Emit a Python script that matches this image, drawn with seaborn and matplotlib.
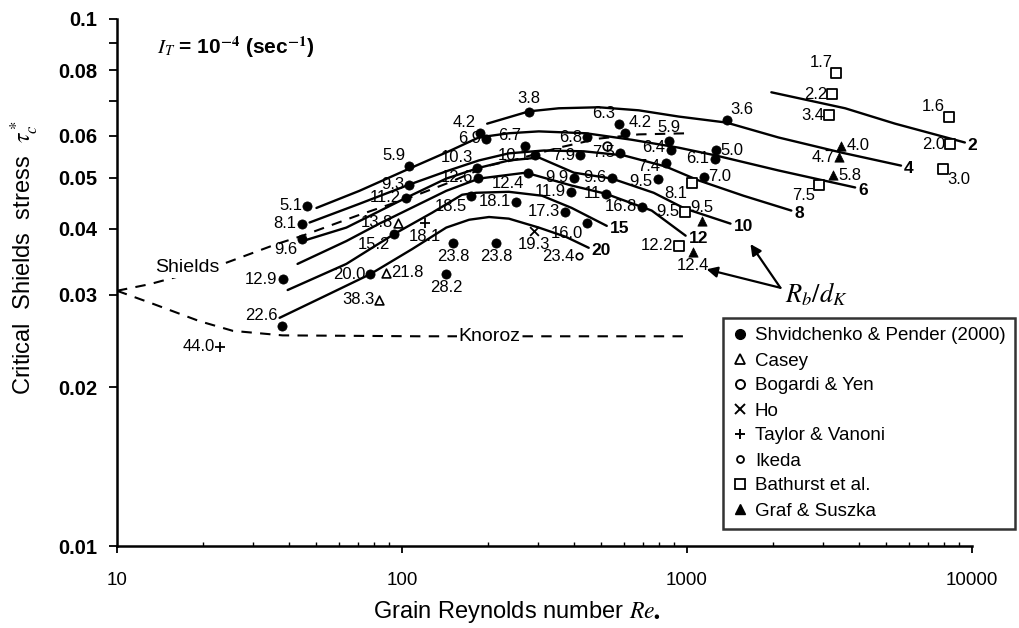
import matplotlib
matplotlib.use("Agg")
import matplotlib.pyplot as plt
from matplotlib.lines import Line2D
import seaborn as sns

# ---------------- data ----------------
# Shvidchenko & Pender (2000): grain Reynolds number, critical Shields stress, R_b/d_K
sp_re = [46.6, 44.4, 44.4, 38.1, 37.8, 106, 106, 103.5, 94.0, 77.4, 151, 143, 214,
         188, 197, 183, 185, 175, 251, 279, 270, 293, 277, 445, 421, 401, 391, 373,
         576, 605, 581, 545, 519, 694, 445, 862, 876, 841, 789, 1376, 1259, 1249, 1143]
sp_tau = [0.0442, 0.0409, 0.0383, 0.0321, 0.0261, 0.0525, 0.0485, 0.0458, 0.0391, 0.0328,
          0.0376, 0.0328, 0.0376, 0.0607, 0.0593, 0.0522, 0.0500, 0.0462, 0.0450, 0.0665,
          0.0573, 0.0551, 0.0511, 0.0596, 0.0551, 0.0500, 0.0470, 0.0431, 0.0633, 0.0609,
          0.0558, 0.0500, 0.0466, 0.0440, 0.0411, 0.0588, 0.0563, 0.0532, 0.0498, 0.0642,
          0.0563, 0.0543, 0.0502]
sp_lab = ["5.1", "8.1", "9.6", "12.9", "22.6", "5.9", "9.3", "11.2", "15.2", "20.0",
          "23.8", "28.2", "23.8", "4.2", "6.9", "10.3", "12.6", "18.5", "18.1", "3.8",
          "6.7", "10.1", "12.4", "6.8", "7.9", "9.9", "11.9", "17.3", "6.3", "4.2",
          "7.5", "9.6", "11", "16.8", "16.0", "5.9", "6.4", "7.4", "9.5", "3.6",
          "5.0", "6.1", "7.0"]

casey_re = [97, 88, 83.3]
casey_tau = [0.0411, 0.0330, 0.0293]
casey_lab = ["13.8", "21.8", "38.3"]

bogardi_re = [523]
bogardi_tau = [0.0573]
bogardi_lab = [""]

ho_re = [290]
ho_tau = [0.0396]
ho_lab = ["19.3"]

taylor_re = [120, 22.9]
taylor_tau = [0.0411, 0.0239]
taylor_lab = ["18.1", "44.0"]

ikeda_re = [418]
ikeda_tau = [0.0355]
ikeda_lab = ["23.4"]

bathurst_re = [3340, 3233, 3156, 8300, 8370, 7910, 2911, 1038, 981, 935]
bathurst_tau = [0.0789, 0.0720, 0.0656, 0.0651, 0.0578, 0.0520, 0.0485, 0.0489, 0.0431, 0.0371]
bathurst_lab = ["1.7", "2.2", "3.4", "1.6", "2.0", "3.0", "7.5", "8.1", "9.5", "12.2"]

graf_re = [3475, 3420, 3260, 1125, 1046]
graf_tau = [0.0575, 0.0546, 0.0505, 0.0414, 0.0361]
graf_lab = ["4.0", "4.7", "5.8", "9.5", "12.4"]

# curves of constant R_b/d_K
c2_re = [1977, 3589, 5370, 9440]
c2_tau = [0.0726, 0.0677, 0.0633, 0.0583]
c4_re = [199, 279, 355, 490, 677, 934, 1376, 2092, 3475, 5636]
c4_tau = [0.0633, 0.0668, 0.0677, 0.0680, 0.0671, 0.0653, 0.0636, 0.0596, 0.0558, 0.0527]
c6_re = [50.1, 70.9, 106, 146, 186, 237, 302, 442, 640, 934, 1259, 2092, 3890]
c6_tau = [0.0438, 0.0472, 0.0520, 0.0561, 0.0596, 0.0607, 0.0612, 0.0607, 0.0590, 0.0570,
          0.0551, 0.0516, 0.0479]
c8_re = [47.4, 70.9, 106, 146, 186, 237, 315, 434, 600, 841, 1098, 1578, 2323]
c8_tau = [0.0411, 0.0446, 0.0485, 0.0516, 0.0539, 0.0556, 0.0563, 0.0561, 0.0551, 0.0525,
          0.0494, 0.0462, 0.0433]
c10_re = [44.8, 63.8, 103.5, 143, 186.4, 237, 302, 401, 545, 764, 981, 1421]
c10_tau = [0.0379, 0.0402, 0.0458, 0.0498, 0.0522, 0.0539, 0.0546, 0.0511, 0.0498, 0.0468,
           0.0437, 0.0409]
c12_re = [43.0, 63.8, 83.3, 143, 186.4, 272, 394, 519, 752, 989]
c12_tau = [0.0343, 0.0379, 0.0409, 0.0472, 0.0498, 0.0511, 0.0483, 0.0466, 0.0433, 0.0388]
c15_re = [39.7, 63.8, 94.0, 127.6, 162.5, 182, 237, 310, 394, 523]
c15_tau = [0.0306, 0.0343, 0.0391, 0.0429, 0.0464, 0.0468, 0.0470, 0.0462, 0.0438, 0.0405]
c20_re = [37.2, 55.7, 77.4, 108.6, 143, 172, 202, 237, 302, 376, 452]
c20_tau = [0.0271, 0.0301, 0.0328, 0.0366, 0.0402, 0.0416, 0.0421, 0.0418, 0.0402, 0.0386,
           0.0368]
curve_names = ["2", "4", "6", "8", "10", "12", "15", "20"]

shields_re = [10, 13.05, 22.9, 36.3, 44.8, 69.2, 108.6, 143, 202, 257, 355, 490, 677, 1013]
shields_tau = [0.0305, 0.0314, 0.0341, 0.0374, 0.0388, 0.0423, 0.0460, 0.0487, 0.0527,
               0.0543, 0.0570, 0.0593, 0.0604, 0.0607]
knoroz_re = [10, 13.4, 19.5, 25.5, 38.1, 115, 1013]
knoroz_tau = [0.0305, 0.0288, 0.0267, 0.0256, 0.0251, 0.0250, 0.0250]

# ---------------- label placement around markers ----------------
sp_pos = ["l", "l", "bl", "l", "ul", "ul", "l", "l", "bl", "l",
          "b", "b", "b", "ul", "l", "ul", "l", "bl", "l", "a",
          "ul", "l", "bl", "l", "l", "l", "l", "l", "ul", "ur",
          "l", "l", "l", "l", "bl", "a", "lu", "ld", "ld", "ur",
          "r", "l", "r"]
casey_pos = ["l", "r", "l"]
bogardi_pos = ["l"]
ho_pos = ["b"]
taylor_pos = ["b", "l"]
ikeda_pos = ["l"]
bathurst_pos = ["ul", "l", "l", "ul", "l", "br", "bl", "bl", "l", "l"]
graf_pos = ["r", "l", "r", "a", "b"]

PLACE = {"l": (-5, 0, "right", "center"), "r": (5, 0, "left", "center"),
         "lu": (-5, 3, "right", "center"), "ld": (-5, -3, "right", "center"),
         "a": (0, 6, "center", "bottom"), "b": (0, -6, "center", "top"),
         "ul": (-4, 3, "right", "bottom"), "ur": (4, 3, "left", "bottom"),
         "bl": (-4, -3, "right", "top"), "br": (4, -3, "left", "top")}

# ---------------- figure ----------------
sns.set_theme(style="ticks", rc={"axes.edgecolor": "black", "text.color": "black",
                                 "xtick.color": "black", "ytick.color": "black",
                                 "axes.labelcolor": "black"})
plt.rcParams["font.family"] = ["Liberation Sans", "DejaVu Sans"]
plt.rcParams["mathtext.fontset"] = "stix"

W, H = 1019, 628
fig = plt.figure(figsize=(W / 100, H / 100), dpi=100)
fig.patch.set_facecolor("white")
ax = fig.add_axes([117 / W, 1 - 546 / H, (972 - 117) / W, (546 - 19) / H])
ax.set_facecolor("white")
ax.set_xscale("log")
ax.set_yscale("log")
ax.set_xlim(10, 10000)
ax.set_ylim(0.01, 0.1)

# curves of constant relative bed roughness
curves = [(c2_re, c2_tau), (c4_re, c4_tau), (c6_re, c6_tau), (c8_re, c8_tau),
          (c10_re, c10_tau), (c12_re, c12_tau), (c15_re, c15_tau), (c20_re, c20_tau)]
for (xr, yt), name in zip(curves, curve_names):
    sns.lineplot(x=xr, y=yt, sort=False, estimator=None, color="black",
                 linewidth=1.7, ax=ax)
    ax.annotate(name, (xr[-1], yt[-1]), xytext=(3, -3), textcoords="offset pixels",
                ha="left", va="center", fontsize=12.5, fontweight="bold")

# Shields and Knoroz reference curves
sns.lineplot(x=shields_re, y=shields_tau, sort=False, estimator=None, color="black",
             linewidth=1.5, linestyle=(0, (5, 4)), ax=ax)
sns.lineplot(x=knoroz_re, y=knoroz_tau, sort=False, estimator=None, color="black",
             linewidth=1.5, linestyle=(0, (5, 4)), ax=ax)
ax.text(17.6, 0.0337, "Shields", fontsize=14, ha="center", va="center",
        bbox=dict(facecolor="white", edgecolor="none", pad=1.0), zorder=4)
ax.text(202, 0.0250, "Knoroz", fontsize=14, ha="center", va="center",
        bbox=dict(facecolor="white", edgecolor="none", pad=1.0), zorder=4)

# measured points
series = [
    (sp_re, sp_tau, sp_lab, sp_pos, dict(marker="o", s=44, color="black", edgecolor="black", linewidth=0.5)),
    (casey_re, casey_tau, casey_lab, casey_pos, dict(marker="^", s=40, color="white", edgecolor="black", linewidth=1.2)),
    (bogardi_re, bogardi_tau, bogardi_lab, bogardi_pos, dict(marker="o", s=38, color="white", edgecolor="black", linewidth=1.3)),
    (ho_re, ho_tau, ho_lab, ho_pos, dict(marker="x", s=40, color="black", linewidth=1.3)),
    (taylor_re, taylor_tau, taylor_lab, taylor_pos, dict(marker="+", s=50, color="black", linewidth=1.3)),
    (ikeda_re, ikeda_tau, ikeda_lab, ikeda_pos, dict(marker="o", s=22, color="white", edgecolor="black", linewidth=1.2)),
    (bathurst_re, bathurst_tau, bathurst_lab, bathurst_pos, dict(marker="s", s=42, color="white", edgecolor="black", linewidth=1.3)),
    (graf_re, graf_tau, graf_lab, graf_pos, dict(marker="^", s=45, color="black", edgecolor="black", linewidth=0.5)),
]
for xr, yt, labs, pos, style in series:
    sns.scatterplot(x=xr, y=yt, ax=ax, legend=False, zorder=5, **style)
    for xv, yv, lab, p in zip(xr, yt, labs, pos):
        if not lab:
            continue
        dx, dy, ha, va = PLACE[p]
        ax.annotate(lab, (xv, yv), xytext=(dx, dy), textcoords="offset pixels",
                    ha=ha, va=va, fontsize=12, zorder=6)

# R_b/d_K pointer
ax.text(2213, 0.0301, r"$R_b/d_K$", fontsize=19, ha="left", va="center")
for tip in [(1171, 0.0335), (1670, 0.0374)]:
    ax.annotate("", xy=tip, xytext=(2127, 0.0309),
                arrowprops=dict(arrowstyle="-|>", color="black", lw=1.6,
                                mutation_scale=16, shrinkA=0, shrinkB=0))

# rate of unsteadiness
ax.text(0.047, 0.947, r"$I_T$ = 10$^{\mathbf{-4}}$ (sec$^{\mathbf{-1}}$)",
        transform=ax.transAxes, fontsize=15, fontweight="bold", ha="left", va="center")

# axes styling
sns.despine(ax=ax)
for side in ["left", "bottom"]:
    ax.spines[side].set_linewidth(1.8)
ax.set_xticks([10, 100, 1000, 10000])
ax.set_xticklabels(["10", "100", "1000", "10000"])
ax.set_yticks([0.01, 0.02, 0.03, 0.04, 0.05, 0.06, 0.07, 0.08, 0.09, 0.1])
ax.set_yticklabels(["0.01", "0.02", "0.03", "0.04", "0.05", "0.06", "", "0.08", "", "0.1"])
ax.yaxis.set_minor_locator(matplotlib.ticker.NullLocator())
ax.tick_params(axis="x", which="major", length=5, width=1.3, pad=14, labelsize=13.5)
ax.tick_params(axis="x", which="minor", length=3, width=1.0, direction="in")
ax.tick_params(axis="y", which="major", length=6, width=1.3, pad=8, labelsize=14.5)
for t in ax.get_yticklabels():
    t.set_fontweight("bold")

fig.text(517 / W, 1 - 612 / H, r"Grain Reynolds number $Re_{\bullet}$", fontsize=17,
         ha="center", va="center")
fig.text(25 / W, 1 - 258 / H, r"Critical  Shields  stress  $\tau_c^*$", fontsize=17,
         ha="center", va="center", rotation=90)

# legend
handles = [
    Line2D([], [], marker="o", ls="", color="black", markersize=7),
    Line2D([], [], marker="^", ls="", markerfacecolor="white", markeredgecolor="black", markersize=7, markeredgewidth=1.3),
    Line2D([], [], marker="o", ls="", markerfacecolor="white", markeredgecolor="black", markersize=6.5, markeredgewidth=1.4),
    Line2D([], [], marker="x", ls="", color="black", markersize=7, markeredgewidth=1.4),
    Line2D([], [], marker="+", ls="", color="black", markersize=7, markeredgewidth=1.4),
    Line2D([], [], marker="o", ls="", markerfacecolor="white", markeredgecolor="black", markersize=5, markeredgewidth=1.3),
    Line2D([], [], marker="s", ls="", markerfacecolor="white", markeredgecolor="black", markersize=6.5, markeredgewidth=1.3),
    Line2D([], [], marker="^", ls="", color="black", markersize=7),
]
names = ["Shvidchenko & Pender (2000)", "Casey", "Bogardi & Yen", "Ho",
         "Taylor & Vanoni", "Ikeda", "Bathurst et al.", "Graf & Suszka"]
leg = fig.legend(handles, names, loc="upper left", bbox_to_anchor=(723 / W, 1 - 318 / H),
                 bbox_transform=fig.transFigure, fontsize=13.5, frameon=True,
                 fancybox=False, shadow=False, handlelength=0.8, handletextpad=0.4,
                 labelspacing=0.42, borderpad=0.5, borderaxespad=0)
leg.get_frame().set_edgecolor("black")
leg.get_frame().set_linewidth(1.8)

fig.savefig("out.png", dpi=100, facecolor="white")
